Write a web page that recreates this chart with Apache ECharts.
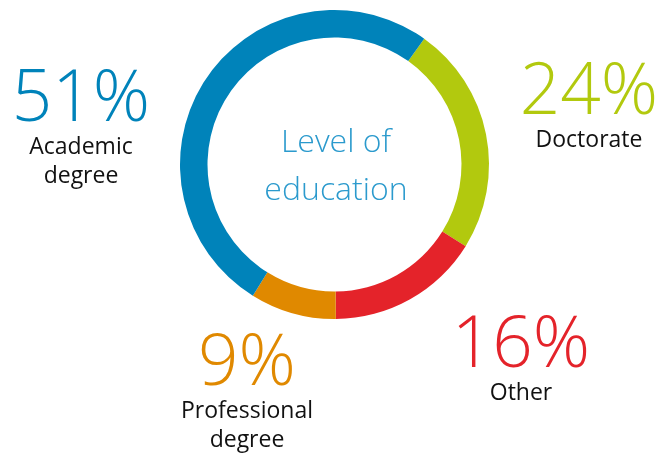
<!DOCTYPE html>
<html>
<head>
<meta charset="utf-8">
<script src="https://cdn.jsdelivr.net/npm/echarts@6/dist/echarts.min.js"></script>
<style>
html,body{margin:0;padding:0;background:#fff;}
#chart{width:672px;height:456px;}
</style>
</head>
<body>
<div id="chart"></div>
<script>
// Data
const categories = ['Doctorate', 'Other', 'Professional\ndegree', 'Academic\ndegree'];
const values = [24, 16, 9, 51];
const colors = ['#B2C90E', '#E4232A', '#E08900', '#0083BA'];
const centerTitle = 'Level of\neducation';

// Label block centres (layout only)
const labelPos = [[589, 108], [521, 361], [247, 394], [81, 130]];

const chart = echarts.init(document.getElementById('chart'));
const fontFam = '"Open Sans", "Noto Sans", sans-serif';

chart.setOption({
  animation: false,
  backgroundColor: '#fff',
  graphic: [{
    type: 'text',
    left: 'center',
    top: 119,
    style: {
      text: centerTitle,
      fill: '#2B9ACD',
      font: '300 32px ' + fontFam,
      textAlign: 'center',
      lineHeight: 48
    }
  }],
  series: [{
    type: 'pie',
    center: [334.5, 164.5],
    radius: [127, 154.5],
    startAngle: 54.5,
    clockwise: true,
    silent: true,
    data: categories.map((c, i) => ({
      name: c,
      value: values[i],
      itemStyle: { color: colors[i] },
      label: { rich: { p: { color: colors[i] } } }
    })),
    labelLine: { show: false },
    label: {
      show: true,
      position: 'outside',
      overflow: 'none',
      width: 200,
      formatter: p => '{p|' + p.value + '%}\n{n|' + p.name.split('\n').join('}\n{n|') + '}',
      rich: {
        p: { fontSize: 71, lineHeight: 64, fontFamily: fontFam, fontWeight: 300, align: 'center' },
        n: { fontSize: 23, lineHeight: 29, fontFamily: fontFam, color: '#111', align: 'center' }
      }
    },
    labelLayout: params => {
      const pos = labelPos[params.dataIndex];
      return { x: pos[0], y: pos[1], align: 'center', verticalAlign: 'middle' };
    }
  }]
});
</script>
</body>
</html>
